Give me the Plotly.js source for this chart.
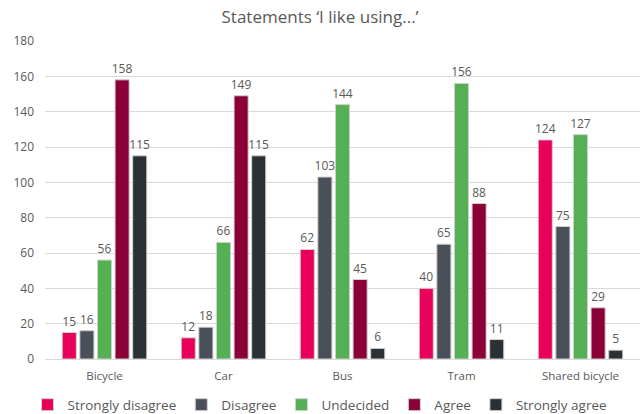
<!DOCTYPE html>
<html>
<head>
<meta charset="utf-8">
<script src="https://cdn.plot.ly/plotly-3.0.1.min.js"></script>
<style>html,body{margin:0;padding:0;background:#fff;}#chart{width:640px;height:414px;}</style>
</head>
<body>
<div id="chart"></div>
<script>
const categories = ["Bicycle", "Car", "Bus", "Tram", "Shared bicycle"];
const seriesNames = ["Strongly disagree", "Disagree", "Undecided", "Agree", "Strongly agree"];
const stronglyDisagree = [15, 12, 62, 40, 124];
const disagree = [16, 18, 103, 65, 75];
const undecided = [56, 66, 144, 156, 127];
const agree = [158, 149, 45, 88, 29];
const stronglyAgree = [115, 115, 6, 11, 5];
const yTicks = [0, 20, 40, 60, 80, 100, 120, 140, 160, 180];

const colors = ["#E8005A", "#4A5059", "#55B054", "#8B0036", "#2B3034"];
const values = [stronglyDisagree, disagree, undecided, agree, stronglyAgree];
const font = "'Open Sans', 'Noto Sans', sans-serif";

const traces = values.map((v, i) => ({
  type: "bar",
  name: seriesNames[i],
  x: categories,
  y: v,
  text: v.map(String),
  textposition: "outside",
  constraintext: "none",
  textfont: {family: font, size: 12, color: "#595959"},
  cliponaxis: false,
  marker: {color: colors[i], line: {color: "#d0d0d0", width: 1}},
  hoverinfo: "skip"
}));

const layout = {
  width: 640, height: 414,
  margin: {l: 45, r: 0, t: 41, b: 55},
  paper_bgcolor: "#fff", plot_bgcolor: "#fff",
  font: {family: font, color: "#595959", size: 12},
  title: {text: "Statements ‘I like using...’", font: {family: font, size: 17, color: "#595959"}, x: 0.5, xanchor: "center", y: 0.959, yanchor: "middle"},
  barmode: "group",
  bargap: 0.26,
  bargroupgap: 0.2,
  xaxis: {
    showgrid: false, showline: false, zeroline: false, ticks: "",
    tickfont: {family: font, size: 11.5, color: "#595959"},
    ticklabelstandoff: 8, automargin: false
  },
  yaxis: {
    range: [0, 180], tickvals: yTicks, ticktext: yTicks.map(String),
    showgrid: true, gridcolor: "#d9d9d9", gridwidth: 1,
    zeroline: true, zerolinecolor: "#d9d9d9", zerolinewidth: 1,
    showline: false, ticks: "",
    tickfont: {family: font, size: 12, color: "#595959"},
    ticklabelstandoff: 10, automargin: false
  },
  showlegend: true,
  legend: {
    orientation: "h", x: 0.5, xref: "container", xanchor: "center",
    y: 0.022, yref: "container", yanchor: "middle",
    font: {family: font, size: 13.5, color: "#595959"},
    itemwidth: 30, traceorder: "normal"
  }
};

Plotly.newPlot("chart", traces, layout, {displayModeBar: false, staticPlot: true});
</script>
</body>
</html>
